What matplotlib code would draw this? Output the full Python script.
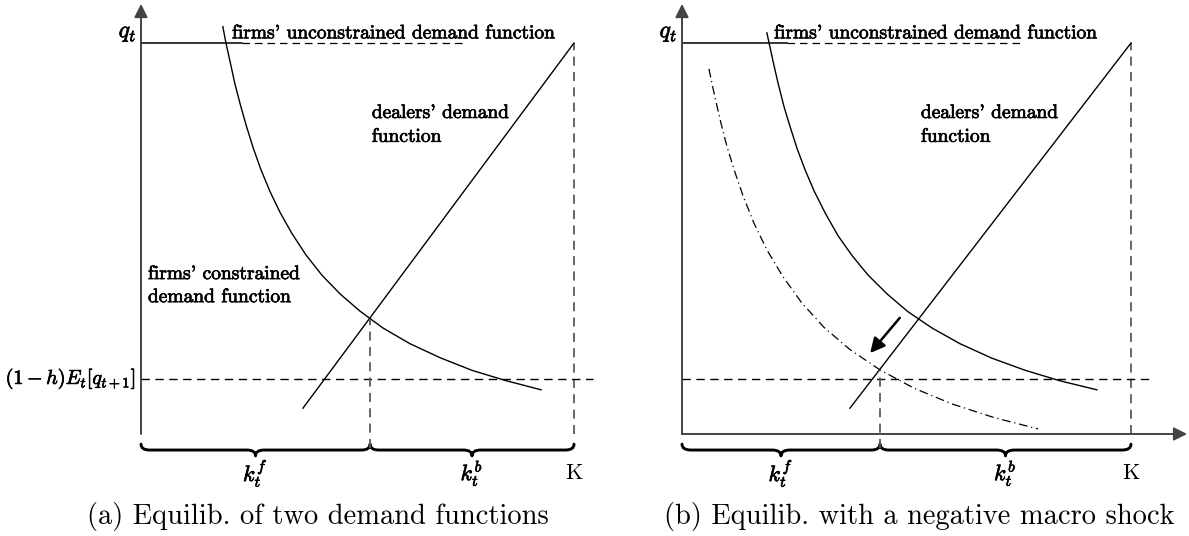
import matplotlib
matplotlib.use("Agg")
import matplotlib.pyplot as plt
import matplotlib.patheffects as pe
from matplotlib.path import Path
from matplotlib.patches import PathPatch

plt.rcParams['font.family'] = ['cmr10', 'DejaVu Serif']
plt.rcParams['mathtext.fontset'] = 'cm'
plt.rcParams['axes.unicode_minus'] = False

# values (units: K = 10 on x, q_t = 10 on y)
K = 10.0
q_top = 10.0
q_floor = 1.41          # (1-h) E_t[q_{t+1}]

# panel (a)
firms_a_x = [1.89, 1.96, 2.06, 2.17, 2.29, 2.43, 2.59, 2.77, 2.98, 3.21, 3.49,
             3.81, 4.18, 4.60, 5.06, 5.59, 6.21, 6.91, 7.64, 8.41, 9.24]
firms_a_q = [10.42, 10.01, 9.51, 8.95, 8.44, 7.89, 7.32, 6.76, 6.20, 5.67, 5.12,
             4.58, 4.06, 3.58, 3.14, 2.71, 2.31, 1.95, 1.63, 1.37, 1.13]
dealers_a_x = [3.74, 10.0]
dealers_a_q = [0.66, 10.0]
eq_a = (5.29, 2.94)

# panel (b)
firms_b_x = [1.89, 1.94, 2.03, 2.14, 2.27, 2.41, 2.56, 2.74, 2.94, 3.19, 3.47,
             3.79, 4.14, 4.57, 5.03, 5.57, 6.19, 6.90, 7.64, 8.42, 9.24]
firms_b_q = [10.26, 10.00, 9.52, 8.97, 8.38, 7.85, 7.31, 6.76, 6.22, 5.65, 5.08,
             4.56, 4.07, 3.58, 3.13, 2.71, 2.31, 1.94, 1.63, 1.36, 1.13]
shock_b_x = [0.60, 0.67, 0.76, 0.87, 1.00, 1.16, 1.36, 1.60, 1.89, 2.25, 2.67,
             3.16, 3.74, 4.41, 5.17, 6.01, 6.95, 7.93]
shock_b_q = [9.34, 8.95, 8.48, 7.94, 7.36, 6.76, 6.09, 5.40, 4.71, 4.02, 3.35,
             2.73, 2.16, 1.64, 1.17, 0.77, 0.42, 0.13]
dealers_b_x = [3.74, 10.0]
dealers_b_q = [0.66, 10.0]
eq_b = (4.41, 1.64)
shift_tail = (4.85, 2.97)
shift_head = (4.19, 2.07)

W, H = 1189, 536
fig = plt.figure(figsize=(W / 100, H / 100), dpi=100)

AX_COL = '#444444'
DASH_GRAY = '#5a5a5a'
heavy = [pe.withStroke(linewidth=0.5, foreground='black')]


def make_axes(left_px, right_px, x0_px, k_px, y0_px=434.0, qtop_px=43.0):
    # axes covering a slice of the figure, data units mapped to pixels
    ax = fig.add_axes([left_px / W, 0, (right_px - left_px) / W, 1])
    sx = (k_px - x0_px) / K
    sy = (y0_px - qtop_px) / q_top
    ax.set_xlim((left_px - x0_px) / sx, (right_px - x0_px) / sx)
    ax.set_ylim((y0_px - H) / sy, y0_px / sy)
    ax.axis('off')
    return ax


def label(ax, x, y, s, size, **kw):
    ax.text(x, y, s, fontsize=size, path_effects=heavy, **kw)


def brace(ax, x0, x1, y, w, h, lw=2.1):
    xm = (x0 + x1) / 2
    verts = [(x0, y + h), (x0, y), (x0 + w, y),
             (xm - w, y), (xm, y), (xm, y - h),
             (xm, y), (xm + w, y),
             (x1 - w, y), (x1, y), (x1, y + h)]
    codes = [Path.MOVETO, Path.CURVE3, Path.CURVE3,
             Path.LINETO, Path.CURVE3, Path.CURVE3,
             Path.CURVE3, Path.CURVE3,
             Path.LINETO, Path.CURVE3, Path.CURVE3]
    ax.add_patch(PathPatch(Path(verts, codes), fc='none', ec='black', lw=lw,
                           capstyle='round', joinstyle='round', clip_on=False))


def axes_frame(ax, x_end, y_end):
    ap = dict(arrowstyle='-|>', color=AX_COL, lw=1.4, mutation_scale=20,
              shrinkA=0, shrinkB=0)
    ax.annotate('', xy=(0, y_end), xytext=(0, 0), arrowprops=ap)
    ax.annotate('', xy=(x_end, 0), xytext=(0, 0), arrowprops=ap)


def common(ax, eq_x, dashed_end, top_solid, top_dash, lab_x, dealer_lab_x):
    # top level q_t
    ax.plot([0, top_solid], [q_top, q_top], color='black', lw=1.1)
    ax.plot([top_solid, top_dash], [q_top, q_top], color='black', lw=0.9,
            ls=(0, (6, 4)))
    label(ax, -0.1, 10.25, r'$q_t$', 17, ha='right', va='center')
    label(ax, lab_x, 10.12, "firms' unconstrained demand function", 14,
          ha='left', va='baseline')
    # K
    ax.plot([K, K], [0, q_top], color=DASH_GRAY, lw=1.3, ls=(0, (5, 3.5)))
    # floor level
    ax.plot([0, dashed_end], [q_floor, q_floor], color='black', lw=1.0,
            ls=(0, (6, 4)))
    label(ax, dealer_lab_x, 8.21, "dealers' demand", 14, ha='left', va='center')
    label(ax, dealer_lab_x, 7.60, 'function', 14, ha='left', va='center')
    # braces and labels
    brace(ax, 0, eq_x, -0.41, 0.2, 0.15)
    brace(ax, eq_x, K, -0.41, 0.2, 0.15)
    label(ax, eq_x / 2, -1.0, r'$k_t^f$', 16, ha='center', va='center')
    label(ax, (eq_x + K) / 2, -1.0, r'$k_t^b$', 16, ha='center', va='center')
    ax.text(K, -1.0, 'K', ha='center', va='center', fontsize=16)


# ---- panel (a)
axa = make_axes(0, 594.5, 141.0, 574.0)
axes_frame(axa, 10.6, 11.0)
common(axa, eq_a[0], 10.44, 2.33, 7.48, 2.10, 5.33)
axa.plot(firms_a_x, firms_a_q, color='black', lw=1.0)
axa.plot(dealers_a_x, dealers_a_q, color='black', lw=1.0)
axa.plot([eq_a[0], eq_a[0]], [-0.35, eq_a[1]], color=DASH_GRAY, lw=1.3,
         ls=(0, (5, 3.5)))
label(axa, -0.12, q_floor, r'$(1-h)E_t[q_{t+1}]$', 14.5, ha='right',
      va='center')
label(axa, 0.16, 4.09, "firms' constrained", 14, ha='left', va='center')
label(axa, 0.16, 3.50, 'demand function', 14, ha='left', va='center')
axa.text(4.09, -2.1, '(a) Equilib. of two demand functions', ha='center',
         va='center', fontsize=20.5)

# ---- panel (b)
axb = make_axes(594.5, 1189, 682.0, 1131.0)
axes_frame(axb, 11.25, 11.0)
common(axb, eq_b[0], 10.42, 2.34, 7.55, 2.05, 5.32)
axb.plot(firms_b_x, firms_b_q, color='black', lw=1.0)
axb.plot(shock_b_x, shock_b_q, color='black', lw=0.9, ls=(0, (7, 3, 1, 3)))
axb.plot(dealers_b_x, dealers_b_q, color='black', lw=1.0)
axb.plot([eq_b[0], eq_b[0]], [-0.35, eq_b[1]], color=DASH_GRAY, lw=1.3,
         ls=(0, (5, 3.5)))
axb.annotate('', xy=shift_head, xytext=shift_tail,
             arrowprops=dict(arrowstyle='-|>', color='black', lw=1.8,
                             mutation_scale=22, shrinkA=0, shrinkB=0))
axb.text(5.28, -2.1, '(b) Equilib. with a negative macro shock', ha='center',
         va='center', fontsize=20.5)

fig.savefig('out.png', dpi=100)
